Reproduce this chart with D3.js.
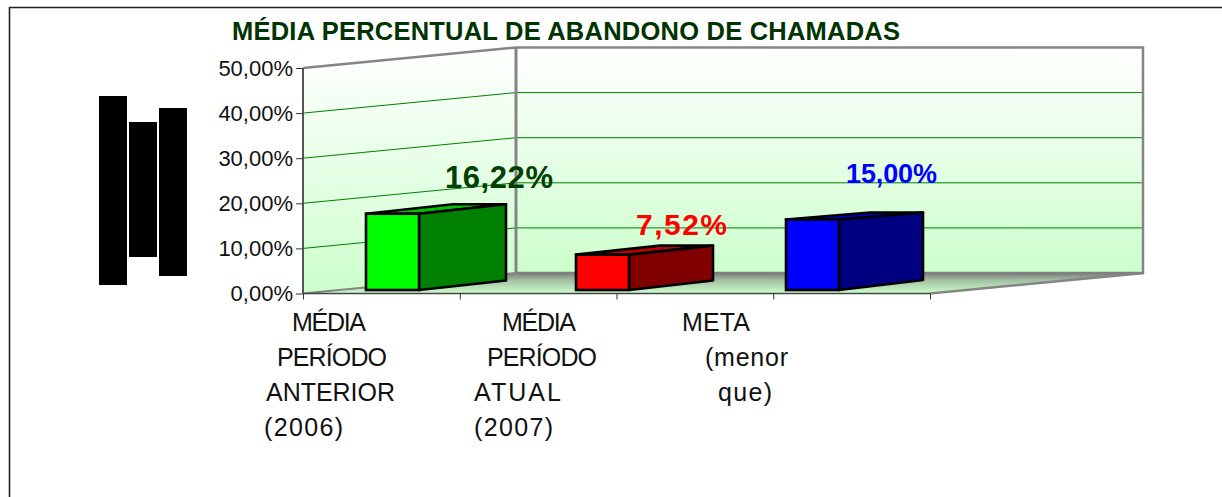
<!DOCTYPE html>
<html><head><meta charset="utf-8">
<script src="https://cdn.jsdelivr.net/npm/d3@7"></script>
<style>html,body{margin:0;padding:0;background:#fff}svg{display:block}text{font-family:"Liberation Sans",Arial,sans-serif}</style>
</head><body><svg id="c" width="1222" height="497"></svg>
<script>
const title = "MÉDIA PERCENTUAL DE ABANDONO DE CHAMADAS";
const categories = ["prior", "current", "target"];
const values = [16.22, 7.52, 15.00];
const valueLabels = ["16,22%", "7,52%", "15,00%"];
const yTicks = [0, 10, 20, 30, 40, 50];
const xTickSlots = ["a", "b", "c", "d", "e"];
const categoryLines = [
  ["MÉDIA", "PERÍODO", "ANTERIOR", "(2006)"],
  ["MÉDIA", "PERÍODO", "ATUAL", "(2007)"],
  ["META", "(menor", "que)"]
];
const redactionBars = [[96, 285], [122, 257], [108, 276]];

// ---- layout / style ----
const frontL = 303, frontR = 930, frontBase = 293.5, frontTop = 68;
const wallDx = 213, wallDy = -20.5;
const barBase = 290, barW = 53;
const barDx = [87, 84, 84], barDyTop = [-9.5, -9, -7], barDyBot = [-9.5, -9.5, -10];
const faceColors = [["#00ff00", "#008000", "#00c000"], ["#ff0000", "#800000", "#c00000"], ["#0000ff", "#000080", "#0000c0"]];
const labelStyle = [
  {x: 445, y: 188, len: 108, size: 31, fill: "#004000"},
  {x: 636, y: 235, len: 91, size: 30, fill: "#ff0000"},
  {x: 846, y: 183, len: 91, size: 27, fill: "#0000ff"}
];
const lineX = [[292, 277, 266, 264], [502, 487, 474, 474], [682, 705, 718]];
const lineLen = [[74, 110, 129, 79], [74, 110, 87, 79], [68, 83, 54]];
const lineY = [331, 366, 401, 436];

const svg = d3.select("#c");
const y = d3.scaleLinear().domain([0, 50]).range([frontBase, frontTop]);
const barH = d3.scaleLinear().domain([0, 50]).range([0, 235]);
const xBand = d3.scaleBand().domain(categories).range([frontL, frontL + 630]);
const xTicks = d3.scalePoint().domain(xTickSlots).range([frontL, frontR]);
const pct = v => d3.format(".2f")(v).replace(".", ",") + "%";
const pts = a => a.map(p => p.join(",")).join(" ");

const defs = svg.append("defs");
function grad(id, stops) {
  const g = defs.append("linearGradient").attr("id", id).attr("x1", 0).attr("y1", 0).attr("x2", 0).attr("y2", 1);
  stops.forEach(s => g.append("stop").attr("offset", s[0]).attr("stop-color", s[1]));
}
grad("wall", [[0, "#ffffff"], [1, "#ccffcc"]]);
grad("floor", [[0, "#7c7c7c"], [0.35, "#a3c0a3"], [1, "#ccffcc"]]);

// frame
svg.append("path").attr("d", "M9.5,497V7.5H1222").attr("fill", "none").attr("stroke", "#222").attr("stroke-width", 1.6);

// redaction bars
svg.selectAll(".red").data(redactionBars).join("rect")
  .attr("x", (d, i) => 99 + i * 30).attr("width", 28)
  .attr("y", d => d[0]).attr("height", d => d[1] - d[0]).attr("fill", "#000");

// title
svg.append("text").attr("x", 232).attr("y", 39.5).attr("font-size", 25.5).attr("font-weight", "bold")
  .attr("fill", "#003300").attr("textLength", 668).attr("lengthAdjust", "spacing").text(title);

// walls
const backL = frontL + wallDx, backR = frontR + wallDx, backTop = frontTop + wallDy, backBase = frontBase + wallDy;
svg.append("polygon").attr("points", pts([[frontL, frontTop], [backL, backTop], [backL, backBase], [frontL, frontBase]])).attr("fill", "url(#wall)");
svg.append("rect").attr("x", backL).attr("y", backTop).attr("width", backR - backL).attr("height", backBase - backTop).attr("fill", "url(#wall)");
svg.append("polygon").attr("points", pts([[frontL, frontBase], [backL, backBase], [backR, backBase], [frontR, frontBase]])).attr("fill", "url(#floor)");

// gridlines
yTicks.filter(t => t > 0 && t < 50).forEach(t => {
  svg.append("polyline").attr("fill", "none").attr("stroke", "#008000").attr("stroke-width", 1)
    .attr("points", pts([[frontL, y(t)], [backL, y(t) + wallDy], [backR, y(t) + wallDy]]));
});

// wall borders
const gray = "#858585";
svg.append("polyline").attr("fill", "none").attr("stroke", gray).attr("stroke-width", 2.5)
  .attr("points", pts([[frontL, frontTop], [backL, backTop], [backR, backTop], [backR, backBase], [frontR, frontBase]]));
svg.append("line").attr("x1", backL).attr("x2", backL).attr("y1", backTop).attr("y2", backBase).attr("stroke", gray).attr("stroke-width", 3);
svg.append("line").attr("x1", frontL).attr("x2", backL).attr("y1", frontBase).attr("y2", backBase).attr("stroke", gray).attr("stroke-width", 2);
svg.append("line").attr("x1", backL).attr("x2", backR).attr("y1", backBase).attr("y2", backBase).attr("stroke", "#808080").attr("stroke-width", 2.5);

// axes
const axL = svg.append("g").attr("transform", `translate(${frontL},0)`)
  .call(d3.axisLeft(y).tickValues(yTicks).tickFormat(pct).tickSize(7).tickPadding(3));
axL.selectAll("text").attr("font-size", 22).attr("fill", "#111").attr("font-family", '"Liberation Sans"').attr("dy", "0.34em");
axL.selectAll("line").attr("stroke", "#333");
axL.select(".domain").attr("stroke", "#555").attr("stroke-width", 2).attr("d", `M0,${frontTop}V${frontBase}`);
const axB = svg.append("g").attr("transform", `translate(0,${frontBase})`)
  .call(d3.axisBottom(xTicks).tickFormat("").tickSize(6));
axB.selectAll("line").attr("stroke", "#333");
axB.select(".domain").attr("stroke", "#444").attr("stroke-width", 1.5).attr("d", `M${frontL},0H${frontR}`);

// bars
const bars = svg.selectAll(".bar").data(categories).join("g").attr("class", "bar");
const sw = 2.6;
bars.each(function (c, i) {
  const g = d3.select(this);
  const x0 = xBand(c) + xBand.bandwidth() * 0.3, x1 = x0 + barW;
  const top = barBase - barH(values[i]);
  const dx = barDx[i], dt = barDyTop[i], db = barDyBot[i];
  g.append("polygon").attr("points", pts([[x0, top], [x1, top], [x1 + dx, top + dt], [x0 + dx, top + dt]]))
    .attr("fill", faceColors[i][2]).attr("stroke", "#000").attr("stroke-width", sw).attr("stroke-linejoin", "round");
  g.append("polygon").attr("points", pts([[x1, top], [x1 + dx, top + dt], [x1 + dx, barBase + db], [x1, barBase]]))
    .attr("fill", faceColors[i][1]).attr("stroke", "#000").attr("stroke-width", sw).attr("stroke-linejoin", "round");
  g.append("rect").attr("x", x0).attr("y", top).attr("width", barW).attr("height", barBase - top)
    .attr("fill", faceColors[i][0]).attr("stroke", "#000").attr("stroke-width", sw);
});

// value labels
valueLabels.forEach((t, i) => {
  const s = labelStyle[i];
  svg.append("text").attr("x", s.x).attr("y", s.y).attr("font-size", s.size).attr("font-weight", "bold")
    .attr("fill", s.fill).attr("textLength", s.len).attr("lengthAdjust", "spacing").text(t);
});

// category labels
categoryLines.forEach((lines, i) => lines.forEach((t, j) => {
  svg.append("text").attr("x", lineX[i][j]).attr("y", lineY[j]).attr("font-size", 25)
    .attr("textLength", lineLen[i][j]).attr("lengthAdjust", "spacing").attr("fill", "#111").text(t);
}));
</script></body></html>
